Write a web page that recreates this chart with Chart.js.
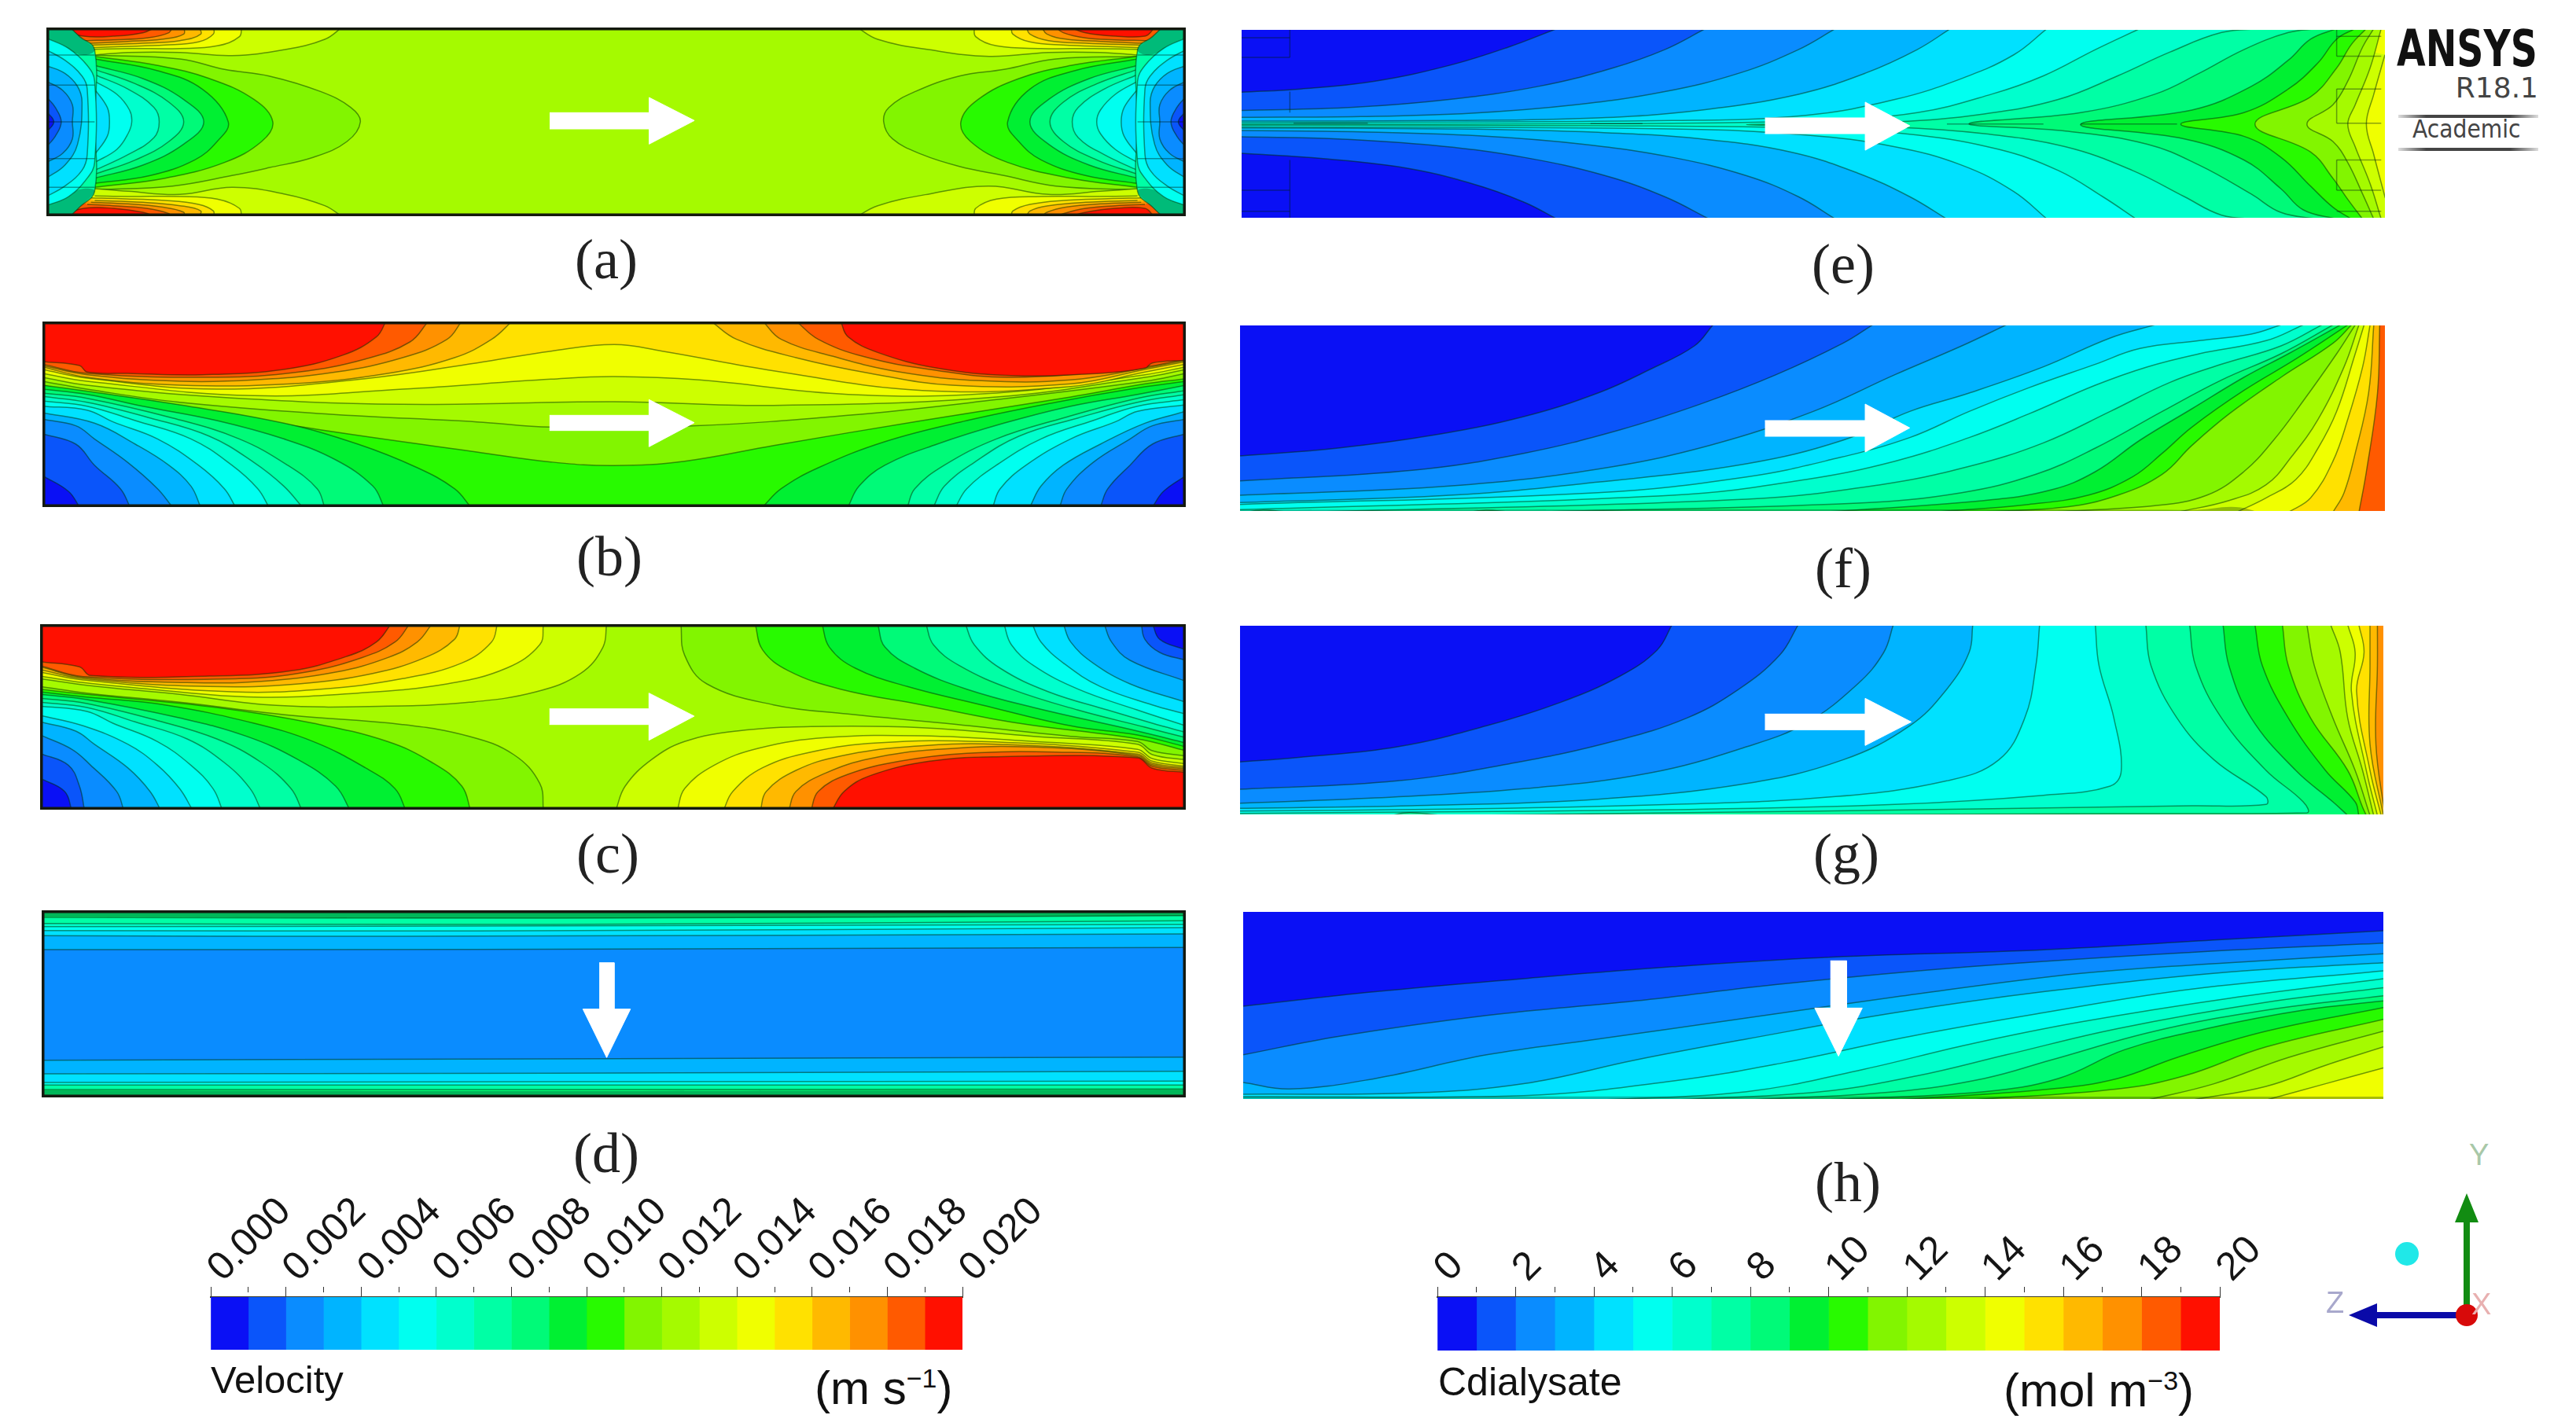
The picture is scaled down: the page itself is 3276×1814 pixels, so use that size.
<!DOCTYPE html>
<html>
<head>
<meta charset="utf-8">
<title>Velocity and dialysate concentration contours</title>
<script src="https://cdn.jsdelivr.net/npm/chart.js@4"></script>
<style>
  html, body { margin: 0; background: #fff; }
  #page { position: relative; width: 3276px; height: 1814px; overflow: hidden; }
  canvas { position: absolute; }
  .t { position: absolute; white-space: nowrap; line-height: 1; color: #111; }
  .cap { font: 72px "Liberation Serif", serif; transform: translate(-50%, -50%); color: #222; }
  .sans { font-family: "Liberation Sans", sans-serif; font-size: 49px; }
  .sans sup { font-size: 34px; line-height: 0; }
  .rule { position: absolute; height: 4px; left: 3050px; width: 178px;
    background: linear-gradient(90deg, #ddd, #444 20%, #444 80%, #ddd); }
</style>
</head>
<body>
<div id="page"></div>
<script>
// colours of the 20 legend bands, lowest value first
const bandColors = ["#0a10f5","#0a55fa","#0a8cff","#00b4ff","#00e1ff","#00fff0","#00ffcd","#00ffa5","#00fa78","#00f032",
  "#28fa00","#82f500","#a5fa00","#cdff00","#f0ff00","#ffe100","#ffb900","#ff9100","#ff5a00","#ff1000"];

const velocityTicks = ["0.000","0.002","0.004","0.006","0.008","0.010","0.012","0.014","0.016","0.018","0.020"];
const concTicks = ["0","2","4","6","8","10","12","14","16","18","20"];

// contour layers: [side the region closes towards, legend band, x,y,x,y...], painted in order
// band -1 is the dark wall shading, side N is a bare mesh line
const panelA = [
  ["L",11,[85,150,200,165,260,205,320,230,390,290,430,350,443,405,425,480,380,540,320,580,270,610,190,650,85,665]],
  ["L",10,[85,155,170,190,240,240,300,320,325,405,310,480,260,560,180,620,85,655]],
  ["L",9,[85,165,170,210,230,280,265,405,250,480,220,550,160,610,85,640]],
  ["L",8,[85,190,150,240,205,320,232,405,205,490,150,570,85,620]],
  ["L",7,[85,205,140,260,185,330,205,405,185,480,140,550,85,605]],
  ["L",6,[85,225,130,280,165,350,172,405,165,465,130,530,85,590]],
  ["L",5,[85,250,115,300,132,360,135,405,130,450,115,510,85,560]],
  ["L",4,[85,280,102,350,105,405,102,460,85,530]],
  ["R",11,[1490,155,1380,165,1310,205,1250,230,1190,290,1155,350,1148,405,1160,470,1200,530,1250,575,1310,610,1380,650,1490,665]],
  ["R",10,[1490,155,1400,190,1330,240,1275,320,1252,405,1265,480,1315,560,1400,620,1490,655]],
  ["R",9,[1490,165,1405,210,1345,280,1315,405,1330,480,1360,550,1420,610,1490,640]],
  ["R",8,[1490,190,1425,240,1370,320,1345,405,1370,490,1425,570,1490,620]],
  ["R",7,[1490,205,1435,260,1390,330,1372,405,1390,480,1435,550,1490,605]],
  ["R",6,[1490,225,1445,280,1410,350,1402,405,1410,465,1445,530,1490,590]],
  ["R",5,[1490,250,1460,300,1440,360,1435,405,1440,450,1460,510,1490,560]],
  ["R",4,[1490,280,1472,350,1468,405,1472,460,1490,530]],
  ["L",13,[420,40,395,90,340,130,270,152,200,140,130,140,85,150]],
  ["L",14,[283,40,280,80,250,115,200,125,130,125,85,128]],
  ["L",15,[245,40,245,70,225,100,180,112,120,118,80,122]],
  ["L",16,[225,40,228,70,200,95,150,105,85,112]],
  ["L",17,[205,40,205,70,175,90,130,98,80,105]],
  ["L",18,[190,40,185,65,155,85,110,92,75,95]],
  ["L",19,[170,40,150,65,110,78,70,78,45,55,45,40]],
  ["L",13,[85,660,130,670,200,682,270,655,340,680,395,725,420,770]],
  ["L",14,[85,688,130,690,200,690,250,700,280,735,283,770]],
  ["L",15,[80,695,120,698,180,705,225,720,245,745,245,770]],
  ["L",16,[85,705,150,712,200,725,228,745,225,770]],
  ["L",17,[80,712,130,718,175,730,205,750,205,770]],
  ["L",18,[75,720,110,725,155,735,185,755,190,770]],
  ["L",19,[45,770,45,760,70,735,110,735,150,750,170,770]],
  ["R",13,[1110,40,1140,90,1210,130,1290,155,1370,140,1440,140,1490,150]],
  ["R",14,[1270,40,1272,80,1300,115,1360,125,1430,125,1490,128]],
  ["R",15,[1320,40,1322,70,1345,100,1390,112,1450,118,1495,122]],
  ["R",16,[1340,40,1345,70,1370,95,1420,105,1490,112]],
  ["R",17,[1360,40,1368,70,1395,90,1440,98,1495,105]],
  ["R",18,[1378,40,1390,65,1420,85,1460,92,1500,95]],
  ["R",19,[1395,40,1420,65,1460,78,1500,78,1510,55,1510,40]],
  ["R",13,[1490,660,1440,670,1370,682,1290,650,1210,680,1140,725,1110,770]],
  ["R",14,[1490,688,1430,690,1360,690,1300,700,1272,735,1270,770]],
  ["R",15,[1495,695,1450,698,1390,705,1345,720,1322,745,1320,770]],
  ["R",16,[1490,705,1420,712,1370,725,1345,745,1340,770]],
  ["R",17,[1495,712,1440,718,1395,730,1368,750,1360,770]],
  ["R",18,[1500,720,1460,725,1420,735,1390,755,1378,770]],
  ["R",19,[1510,770,1510,760,1500,735,1460,735,1420,750,1395,770]],
  ["L",7,[50,40,65,80,85,130,85,405,85,670,65,730,50,770]],
  ["L",-1,[50,40,65,80,85,130,70,150,40,120,20,110]],
  ["L",-1,[20,700,40,690,70,660,85,670,65,730,50,770]],
  ["L",5,[20,85,50,125,75,190,85,250,85,560,75,620,50,690,20,725]],
  ["L",4,[20,130,45,170,68,230,75,280,75,530,68,590,45,650,20,690]],
  ["L",3,[20,190,45,220,62,270,68,330,62,490,45,570,20,620]],
  ["L",2,[20,250,42,285,55,340,55,405,55,470,42,525,20,560]],
  ["L",1,[20,310,32,350,40,405,32,460,20,500]],
  ["L",0,[20,365,30,405,20,445]],
  ["R",7,[1525,40,1510,80,1490,130,1490,405,1490,670,1510,730,1525,770]],
  ["R",-1,[1525,40,1510,80,1490,130,1505,150,1535,120,1555,110]],
  ["R",-1,[1555,700,1535,690,1505,660,1490,670,1510,730,1525,770]],
  ["R",5,[1555,85,1525,125,1500,190,1490,250,1490,560,1500,620,1525,690,1555,725]],
  ["R",4,[1555,130,1530,170,1507,230,1500,280,1500,530,1507,590,1530,650,1555,690]],
  ["R",3,[1555,190,1530,220,1513,270,1507,330,1513,490,1530,570,1555,620]],
  ["R",2,[1555,250,1533,285,1520,340,1520,405,1520,470,1533,525,1555,560]],
  ["R",1,[1555,310,1543,350,1535,405,1543,460,1555,500]],
  ["R",0,[1555,365,1545,405,1555,445]],
  ["N",0,[20,150,85,150]],["N",0,[20,265,85,265]],["N",0,[20,405,85,405]],["N",0,[20,545,85,545]],["N",0,[20,655,85,655]],
  ["N",0,[1490,150,1555,150]],["N",0,[1490,265,1555,265]],["N",0,[1490,405,1555,405]],["N",0,[1490,545,1555,545]],["N",0,[1490,655,1555,655]]
];

const panelB = [
  ["T",11,[15,285,75,320,200,370,400,460,600,540,700,578,785,592,880,575,1000,515,1200,420,1400,330,1500,280,1555,260]],
  ["T",12,[15,270,75,300,200,350,400,395,600,425,700,445,890,440,1100,400,1300,340,1500,270,1555,240]],
  ["T",13,[15,255,75,285,250,330,500,358,785,348,1000,362,1300,330,1500,255,1555,225]],
  ["T",14,[15,240,75,270,300,325,500,300,700,262,785,252,900,265,1100,320,1300,315,1500,245,1555,215]],
  ["T",15,[15,225,75,258,250,300,450,260,600,200,700,155,785,130,850,155,1000,230,1200,305,1400,290,1500,235,1555,205]],
  ["L",16,[648,40,620,110,570,180,480,240,350,280,200,285,75,255,15,215]],
  ["R",16,[915,40,950,110,1030,180,1130,240,1240,285,1400,280,1500,225,1555,195]],
  ["L",17,[580,40,560,110,500,180,410,235,300,265,200,270,75,245,15,210]],
  ["R",17,[985,40,1010,110,1080,175,1170,235,1280,268,1400,265,1500,220,1555,190]],
  ["L",18,[535,40,510,120,450,185,360,235,250,255,75,240,15,205]],
  ["R",18,[1030,40,1060,110,1120,175,1210,225,1320,255,1500,215,1555,185]],
  ["L",19,[478,40,465,100,420,170,340,225,230,245,130,240,75,235,65,210,15,195]],
  ["R",19,[1090,40,1100,100,1140,160,1220,220,1320,248,1440,240,1500,220,1510,200,1555,190]],
  ["L",9,[15,285,80,310,200,360,340,430,440,510,520,600,570,680,592,750]],
  ["L",8,[15,300,75,320,150,365,250,420,340,490,410,570,460,670,475,750]],
  ["L",7,[15,315,75,335,190,410,280,490,345,590,385,680,395,750]],
  ["L",6,[15,328,75,350,160,410,240,480,300,580,340,670,365,750]],
  ["L",5,[15,345,75,365,140,420,215,490,270,590,305,680,320,750]],
  ["L",4,[15,365,75,380,110,425,170,490,225,590,260,680,275,750]],
  ["L",3,[15,390,85,430,140,510,185,590,215,670,228,750]],
  ["L",2,[15,415,60,440,85,490,130,580,170,680,190,750]],
  ["L",1,[15,470,60,510,85,590,120,680,133,750]],
  ["L",0,[15,630,50,690,65,750]],
  ["R",9,[1555,270,1480,300,1380,350,1260,420,1150,500,1060,600,1010,680,985,750]],
  ["R",8,[1555,285,1490,320,1400,365,1310,430,1220,510,1150,590,1115,670,1100,750]],
  ["R",7,[1555,305,1490,335,1390,410,1300,490,1230,590,1190,680,1180,750]],
  ["R",6,[1555,320,1490,350,1410,410,1330,480,1270,580,1230,670,1215,750]],
  ["R",5,[1555,340,1490,365,1430,420,1360,490,1300,590,1260,680,1245,750]],
  ["R",4,[1555,360,1490,385,1460,425,1400,490,1340,590,1305,680,1295,750]],
  ["R",3,[1555,385,1500,430,1440,510,1390,590,1360,670,1345,750]],
  ["R",2,[1555,415,1510,440,1480,490,1430,580,1395,680,1385,750]],
  ["R",1,[1555,470,1510,510,1480,590,1450,680,1440,750]],
  ["R",0,[1555,630,1525,690,1510,750]]
];

const panelC = [
  ["L",13,[775,40,770,130,740,230,680,300,590,340,480,355,330,352,200,310,75,275,12,250]],
  ["L",14,[690,40,685,120,640,210,560,270,440,305,300,320,160,290,70,265,12,240]],
  ["L",15,[628,40,620,110,580,190,500,250,390,290,270,300,70,255,12,225]],
  ["L",16,[578,40,570,100,530,170,460,230,360,270,240,280,70,250,12,215]],
  ["L",17,[540,40,520,110,480,170,410,225,310,260,210,265,70,245,12,205]],
  ["L",18,[510,40,490,110,445,170,370,225,280,250,70,242,12,200]],
  ["L",19,[485,40,465,110,425,165,350,220,240,240,80,238,65,205,12,185]],
  ["R",13,[1555,560,1510,540,1490,500,1350,470,1200,437,1050,433,950,450,880,490,835,560,800,660,787,755]],
  ["R",14,[1555,575,1510,555,1490,520,1350,490,1200,468,1070,475,980,515,920,580,880,670,870,755]],
  ["R",15,[1555,585,1510,565,1490,530,1280,490,1140,495,1050,530,985,590,945,680,932,755]],
  ["R",16,[1555,590,1510,572,1490,538,1300,500,1180,510,1090,545,1030,600,990,680,982,755]],
  ["R",17,[1555,595,1510,578,1490,543,1340,510,1220,520,1130,555,1070,610,1030,680,1020,755]],
  ["R",18,[1555,600,1510,584,1490,548,1380,530,1260,535,1170,565,1100,615,1060,680,1050,755]],
  ["R",19,[1555,608,1510,592,1490,552,1300,548,1210,565,1130,620,1095,680,1078,755]],
  ["L",11,[12,280,75,305,200,340,350,390,500,425,590,470,650,540,685,650,690,755]],
  ["L",10,[12,290,75,310,250,360,380,420,480,490,540,570,580,660,592,755]],
  ["L",9,[12,300,75,320,180,350,300,420,380,490,450,590,490,670,505,755]],
  ["L",8,[12,310,75,330,200,400,290,470,360,560,410,660,430,755]],
  ["L",7,[12,325,75,345,170,410,250,480,310,570,350,670,365,755]],
  ["L",6,[12,340,75,360,140,415,210,480,260,570,295,670,310,755]],
  ["L",5,[12,355,75,375,110,420,170,490,215,580,245,670,258,755]],
  ["L",4,[12,390,70,430,130,500,170,580,200,670,218,755]],
  ["L",3,[12,415,60,450,85,500,130,590,160,680,175,755]],
  ["L",2,[12,465,55,520,80,580,115,680,125,755]],
  ["L",1,[12,535,50,580,65,660,72,755]],
  ["L",0,[12,630,45,680,55,755]],
  ["R",11,[875,40,880,160,910,270,1000,350,1100,385,1230,420,1400,470,1490,490,1510,525,1555,545]],
  ["R",10,[975,40,985,140,1020,220,1090,290,1200,350,1330,420,1490,480,1555,525]],
  ["R",9,[1065,40,1075,130,1110,210,1180,280,1280,350,1400,430,1490,465,1555,510]],
  ["R",8,[1140,40,1150,130,1190,210,1260,290,1350,360,1490,450,1555,495]],
  ["R",7,[1205,40,1215,120,1250,200,1320,290,1410,370,1500,435,1555,475]],
  ["R",6,[1258,40,1270,120,1305,210,1370,300,1450,370,1510,420,1555,455]],
  ["R",5,[1310,40,1320,120,1350,200,1410,290,1490,370,1555,430]],
  ["R",4,[1348,40,1360,110,1390,190,1440,280,1510,350,1555,385]],
  ["R",3,[1390,40,1400,110,1430,190,1480,270,1555,340]],
  ["R",2,[1445,40,1455,110,1480,180,1555,260]],
  ["R",1,[1495,40,1500,100,1520,150,1555,180]],
  ["R",0,[1510,40,1520,100,1555,140]]
];

const panelD = [
  ["T",3,[14,188,600,187,1555,180]],
  ["T",4,[14,135,500,137,1555,128]],
  ["T",5,[14,115,600,117,1555,104]],
  ["T",6,[14,100,600,98,1555,92]],
  ["T",7,[14,88,700,92,1555,78]],
  ["T",8,[14,65,700,68,1555,58]],
  ["T",-1,[14,62,700,68,1555,58]],
  ["B",3,[14,610,700,605,1555,598]],
  ["B",4,[14,662,700,660,1555,652]],
  ["B",5,[14,695,700,692,1555,690]],
  ["B",7,[14,705,700,705,1555,705]],
  ["B",8,[14,722,700,722,1555,720]],
  ["B",-1,[14,725,700,728,1555,722]]
];

const panelE = [
  ["L",13,[1560,150,1545,300,1535,414,1545,530,1560,690]],
  ["L",12,[1555,50,1540,200,1520,340,1510,414,1520,500,1540,640,1555,775]],
  ["L",11,[1545,50,1530,120,1510,250,1490,340,1455,414,1490,480,1510,560,1530,680,1545,775]],
  ["L",10,[1535,50,1515,110,1495,200,1460,310,1385,414,1460,520,1490,620,1510,700,1530,775]],
  ["L",9,[1520,50,1495,90,1470,180,1430,280,1370,370,1285,414,1370,460,1420,540,1460,650,1490,730,1515,775]],
  ["L",8,[1495,50,1460,90,1430,170,1380,270,1300,360,1150,415,1290,470,1370,550,1420,660,1450,740,1495,775]],
  ["L",7,[1470,50,1430,65,1370,130,1310,220,1250,300,1150,370,1000,412,1130,440,1240,490,1310,570,1380,680,1420,750,1470,775]],
  ["L",6,[1395,50,1340,65,1270,140,1200,230,1120,320,1020,375,900,405,700,416,900,425,1020,450,1130,500,1220,590,1290,690,1340,760,1390,775]],
  ["L",5,[1230,50,1170,130,1100,230,1030,300,930,370,800,400,500,412,20,414]],
  ["L",5,[20,418,500,420,800,430,930,455,1040,510,1120,590,1180,690,1225,775]],
  ["L",4,[1105,50,1060,150,990,240,900,320,780,380,600,400,20,408]],
  ["L",4,[20,424,600,432,780,455,900,500,990,570,1060,670,1105,775]],
  ["L",3,[975,50,930,130,860,220,770,300,640,360,500,390,300,400,20,402]],
  ["L",3,[20,428,300,432,500,445,640,470,760,520,850,600,920,690,970,775]],
  ["L",2,[820,50,770,130,690,220,590,290,470,340,330,372,180,385,20,388]],
  ["L",2,[20,438,180,443,340,458,480,490,600,540,700,610,770,690,820,775]],
  ["L",1,[645,50,590,130,520,200,420,270,300,320,170,350,20,362]],
  ["L",1,[20,462,150,470,280,495,400,540,510,610,590,690,650,775]],
  ["L",0,[445,50,380,120,300,190,200,250,100,280,20,292]],
  ["L",0,[20,525,130,545,240,580,330,640,400,710,445,775]],
  ["N",0,[90,410,190,410]],["N",0,[490,412,560,412]],["N",0,[970,413,1100,413]],["N",0,[1150,413,1280,413]],
  ["N",0,[20,85,85,85]],["N",0,[20,160,85,160]],["N",0,[85,55,85,160]],["N",0,[85,290,85,370]],["N",0,[85,550,85,770]],
  ["N",0,[20,665,85,665]],["N",0,[20,745,85,745]],
  ["N",0,[1495,55,1495,155]],["N",0,[1495,80,1555,80]],["N",0,[1495,155,1555,155]],["N",0,[1495,280,1555,280]],
  ["N",0,[1495,280,1495,410]],["N",0,[1495,410,1555,410]],["N",0,[1495,550,1495,665]],["N",0,[1495,550,1555,550]],
  ["N",0,[1495,665,1555,665]],["N",0,[1495,745,1555,745]]
];

const panelF = [
  ["L",16,[1553,40,1550,300,1535,600,1525,755]],
  ["L",15,[1545,40,1538,300,1520,530,1505,680,1490,755]],
  ["L",14,[1540,40,1530,200,1510,400,1490,560,1460,700,1430,755]],
  ["L",13,[1532,40,1520,150,1495,370,1470,510,1440,630,1400,700,1360,755]],
  ["L",12,[1525,40,1505,200,1470,400,1435,540,1400,650,1350,710,1280,755]],
  ["L",11,[1520,40,1495,150,1450,330,1410,480,1370,600,1320,690,1250,730,1100,755]],
  ["L",10,[1515,40,1490,110,1420,240,1350,380,1300,500,1260,610,1200,690,1130,735,1000,755]],
  ["L",9,[1510,40,1440,170,1370,290,1300,430,1260,530,1220,620,1160,690,1080,725,950,755]],
  ["L",8,[1500,40,1430,150,1370,240,1300,360,1230,480,1170,600,1110,670,1020,710,800,755]],
  ["L",7,[1490,40,1420,150,1340,250,1260,370,1170,510,1090,610,990,680,850,720,400,755]],
  ["L",6,[1475,40,1420,120,1340,190,1270,260,1190,370,1100,490,1000,580,880,650,700,705,100,755]],
  ["L",5,[1450,40,1400,100,1310,150,1240,200,1170,270,1080,380,1000,470,900,560,780,630,600,690,18,745]],
  ["L",4,[1420,40,1380,75,1310,100,1230,130,1170,190,1080,280,1000,370,920,470,820,550,700,620,500,680,18,725]],
  ["L",3,[1250,40,1190,90,1100,200,1000,300,920,370,830,480,700,570,500,640,300,690,18,718]],
  ["L",2,[1050,40,990,120,900,230,790,370,650,500,500,590,300,655,18,690]],
  ["L",1,[870,40,830,110,740,230,640,340,530,440,400,530,250,595,18,635]],
  ["L",0,[655,40,630,120,570,210,500,300,400,390,280,460,150,510,18,540]],
  ["B",-1,[18,746,800,744,1300,746]]
];

const panelG = [
  ["L",16,[1550,44,1550,200,1548,500,1560,772]],
  ["L",15,[1540,44,1540,200,1540,500,1558,772]],
  ["L",14,[1525,44,1532,150,1522,300,1540,600,1555,772]],
  ["L",13,[1510,44,1520,150,1515,300,1535,600,1550,772]],
  ["L",12,[1487,44,1500,150,1510,400,1530,600,1545,772]],
  ["L",11,[1455,44,1465,200,1490,400,1520,600,1540,772]],
  ["L",10,[1422,44,1430,200,1460,400,1510,600,1530,740,1535,772]],
  ["L",9,[1385,44,1395,200,1430,400,1480,600,1520,720,1525,772]],
  ["L",8,[1342,44,1350,200,1380,400,1440,600,1490,720,1510,772]],
  ["L",7,[1297,44,1305,200,1340,400,1400,600,1450,720,1455,762,1200,765,480,772]],
  ["L",6,[1238,44,1245,200,1280,400,1330,560,1400,700,1400,730,1300,735,800,755,300,772]],
  ["L",5,[1170,44,1175,200,1195,400,1205,600,1190,660,1100,695,900,730,600,750,200,760,18,764]],
  ["L",4,[1095,44,1090,200,1075,400,1040,560,970,640,820,700,600,730,300,748,18,755]],
  ["L",3,[1005,44,1000,150,970,290,920,430,830,560,700,650,500,710,250,735,18,745]],
  ["L",2,[898,44,885,150,850,270,780,420,700,510,570,610,400,670,200,705,18,725]],
  ["L",1,[770,44,745,160,690,290,620,400,520,490,390,570,230,640,18,672]],
  ["L",0,[600,44,580,140,530,240,450,340,350,430,230,510,100,550,18,568]]
];

const panelH = [
  ["B",1,[22,405,200,350,400,300,600,255,800,220,1100,190,1350,150,1558,118]],
  ["B",2,[22,590,150,520,350,440,550,385,750,320,1000,255,1300,200,1558,165]],
  ["B",3,[22,695,85,720,200,680,350,590,500,530,700,450,900,370,1150,280,1350,240,1558,205]],
  ["B",4,[22,740,250,735,400,700,550,610,700,530,900,430,1100,350,1350,275,1558,240]],
  ["B",5,[22,750,400,745,600,690,750,620,920,520,1100,430,1300,340,1558,270]],
  ["B",6,[500,762,700,730,850,650,1000,550,1150,465,1350,375,1558,300]],
  ["B",7,[600,762,800,730,930,670,1050,590,1200,490,1400,390,1558,335]],
  ["B",8,[700,762,900,730,1020,680,1110,610,1250,500,1400,420,1558,365]],
  ["B",9,[800,762,1020,730,1120,680,1210,570,1320,490,1450,420,1558,385]],
  ["B",10,[900,762,1110,720,1200,680,1280,600,1400,500,1558,410]],
  ["B",11,[1000,762,1200,720,1290,670,1400,560,1558,455]],
  ["B",12,[1240,762,1330,700,1430,600,1558,500]],
  ["B",13,[1300,762,1400,710,1480,630,1558,560]],
  ["B",14,[1400,762,1480,700,1558,640]],
  ["B",-1,[22,749,700,748,1558,749]]
];

// flow arrows, in the same units as the contour layers
const arrowA = [698,370,832,370,832,312,893,400,832,490,832,432,698,432];
const arrowB = [698,400,832,400,832,340,893,428,832,520,832,458,698,458];
const arrowC = [698,365,832,365,832,305,893,393,832,485,832,425,698,425];
const arrowD = [765,238,785,238,785,415,807,415,775,600,743,415,765,415];
const arrowE = [725,390,860,390,860,330,920,420,860,513,860,450,725,450];
const arrowF = [725,405,860,405,860,342,920,433,860,525,860,465,725,465];
const arrowG = [725,385,860,385,860,325,922,415,860,505,860,445,725,445];
const arrowH = [813,232,835,232,835,412,856,412,824,595,792,412,813,412];

// orientation triad
const triadY = [-4,0,4,0,4,118,15,118,0,155,-15,118,-4,118];
const triadZ = [0,-4,-114,-4,-114,-15,-150,0,-114,15,-114,4,0,4];
const triadOrigin = [0,0];
const triadProbe = [-76,78];

const CORNERS = {
  L: [[-3000,4000],[-3000,-3000]],
  R: [[5000,4000],[5000,-3000]],
  T: [[5000,-3000],[-3000,-3000]],
  B: [[5000,4000],[-3000,4000]]
};

const page = document.getElementById("page");

function toPoints(flat) {
  const pts = [];
  for (let i = 0; i < flat.length; i += 2) pts.push({ x: flat[i], y: flat[i + 1] });
  return pts;
}

// run the contour on past the panel edge before closing, so the far corners don't bend its end
function closeContour(pts, side) {
  const a = pts[pts.length - 2], b = pts[pts.length - 1];
  const len = Math.hypot(b.x - a.x, b.y - a.y) || 1;
  const past = { x: b.x + (b.x - a.x) / len * 80, y: b.y + (b.y - a.y) / len * 80 };
  return pts.concat([past], CORNERS[side].map(([x, y]) => ({ x, y })));
}

function addCanvas(left, top, width, height) {
  const c = document.createElement("canvas");
  c.width = width;
  c.height = height;
  c.style.left = left + "px";
  c.style.top = top + "px";
  page.appendChild(c);
  return c;
}

function addText(cls, html, css) {
  const d = document.createElement("div");
  d.className = "t " + cls;
  d.innerHTML = html;
  Object.assign(d.style, css);
  page.appendChild(d);
}

const baseOptions = {
  responsive: false,
  animation: false,
  events: [],
  layout: { padding: 0, autoPadding: false },
  plugins: { legend: { display: false }, tooltip: { enabled: false } }
};

function drawPanel(rect, extent, background, layers, arrow, framed) {
  const [x0, x1, y0, y1] = extent;
  const sets = [{
    data: toPoints([-3000,-3000, 5000,-3000, 5000,4000, -3000,4000]),
    backgroundColor: bandColors[background], fill: "shape", borderWidth: 0, tension: 0
  }];
  layers.forEach(([side, band, flat]) => {
    if (side === "N") {
      sets.push({ data: toPoints(flat), borderColor: "rgba(0,30,20,.42)", borderWidth: 1.5, tension: 0, fill: false });
    } else if (band < 0) {
      sets.push({ data: closeContour(toPoints(flat), side), fill: "shape", tension: 0.4, backgroundColor: "rgba(0,30,20,.3)", borderWidth: 0 });
    } else {
      sets.push({
        data: closeContour(toPoints(flat), side), fill: "shape", tension: 0.4,
        backgroundColor: bandColors[band],
        borderColor: "rgba(0,45,0,.5)", borderWidth: 1.5
      });
    }
  });
  sets.push({ data: toPoints(arrow), fill: "shape", backgroundColor: "#fff", borderColor: "#fff", borderWidth: 1, tension: 0 });
  if (framed) {
    sets.push({
      data: toPoints([x0,y0, x1,y0, x1,y1, x0,y1, x0,y0]),
      borderColor: "#14190f", borderWidth: 7, tension: 0, fill: false
    });
  }
  sets.forEach((s, i) => { s.order = sets.length - i; s.pointRadius = 0; });
  new Chart(addCanvas(...rect), {
    type: "line",
    data: { datasets: sets },
    options: {
      ...baseOptions,
      scales: {
        x: { type: "linear", display: false, min: x0, max: x1 },
        y: { type: "linear", display: false, min: y0, max: y1, reverse: true }
      }
    }
  });
}

drawPanel([59,35,1449,240], [20,1555,45,765], 12, panelA, arrowA, true);
drawPanel([54,409,1454,236], [15,1555,42,750], 10, panelB, arrowB, true);
drawPanel([51,794,1457,236], [12,1555,42,750], 12, panelC, arrowC, true);
drawPanel([53,1158,1455,238], [14,1555,38,752], 2, panelD, arrowD, true);
drawPanel([1579,38,1454,239], [20,1560,55,770], 14, panelE, arrowE, false);
drawPanel([1577,414,1456,236], [18,1560,42,750], 18, panelF, arrowF, false);
drawPanel([1577,796,1454,240], [18,1558,48,768], 17, panelG, arrowG, false);
drawPanel([1581,1160,1450,238], [22,1558,46,758], 0, panelH, arrowH, false);

function drawColorBar(left, top, width, height, barLeft, barWidth, barHeight, max, tickLabels) {
  const step = max / 20;
  new Chart(addCanvas(left, top, width, height), {
    type: "bar",
    data: {
      labels: ["band"],
      datasets: bandColors.map(c => ({ data: [step], backgroundColor: c, barPercentage: 1, categoryPercentage: 1 }))
    },
    options: {
      ...baseOptions,
      indexAxis: "y",
      layout: { autoPadding: false, padding: { left: barLeft - left, right: left + width - barLeft - barWidth, top: 0, bottom: 0 } },
      scales: {
        y: { display: false, stacked: true },
        x: {
          type: "linear", position: "top", stacked: true, min: 0, max,
          afterFit: s => { s.paddingLeft = 0; s.paddingRight = 0; s.height = height - barHeight; },
          border: { color: "#3c3c28", width: 2 },
          grid: {
            drawOnChartArea: false, tickLength: 13, tickColor: "#333", tickWidth: 1,
            tickBorderDash: ctx => (ctx.index % 2 ? [7, 40] : [])
          },
          ticks: {
            stepSize: step, autoSkip: false, minRotation: 45, maxRotation: 45, padding: -6, labelOffset: 48, color: "#151515",
            font: { family: "Liberation Sans", size: 50 },
            callback: (v, i) => (i % 2 ? "" : tickLabels[i / 2])
          }
        }
      }
    }
  });
}

drawColorBar(228, 1470, 1180, 247, 268, 956, 67, 0.02, velocityTicks);
drawColorBar(1790, 1500, 1170, 218, 1828, 995, 68, 20, concTicks);

new Chart(addCanvas(2967, 1503, 220, 200), {
  type: "line",
  data: {
    datasets: [
      { data: toPoints(triadOrigin), pointRadius: 14, pointBackgroundColor: "#d80a0a", pointBorderWidth: 0, showLine: false, order: 1 },
      { data: toPoints(triadProbe), pointRadius: 15, pointBackgroundColor: "#20e8e8", pointBorderWidth: 0, showLine: false, order: 2 },
      { data: toPoints(triadZ), fill: "shape", backgroundColor: "#0a0aa8", borderWidth: 0, tension: 0, pointRadius: 0, order: 3 },
      { data: toPoints(triadY), fill: "shape", backgroundColor: "#128c12", borderWidth: 0, tension: 0, pointRadius: 0, order: 4 }
    ]
  },
  options: {
    ...baseOptions,
    scales: {
      x: { type: "linear", display: false, min: -170, max: 50 },
      y: { type: "linear", display: false, min: -30, max: 170 }
    }
  }
});

[["(a)",771,330],["(b)",775,708],["(c)",773,1086],["(d)",771,1467],["(e)",2344,336],["(f)",2344,723],["(g)",2348,1086],["(h)",2350,1504]]
  .forEach(([t, x, y]) => addText("cap", t, { left: x + "px", top: y + "px" }));

addText("sans", "Velocity", { left: "268px", top: "1731px" });
addText("sans", "(m s<sup>−1</sup>)", { left: "1036px", top: "1736px", fontSize: "60px" });
addText("sans", "Cdialysate", { left: "1829px", top: "1733px", fontSize: "50px" });
addText("sans", "(mol m<sup>−3</sup>)", { left: "2548px", top: "1739px", fontSize: "60px" });

addText("", "ANSYS", { left: "3048px", top: "30px", fontFamily: "'DejaVu Sans'", fontWeight: "700", fontSize: "64px",
  transform: "scaleX(.74)", transformOrigin: "left top", color: "#111" });
addText("", "R18.1", { right: "48px", top: "94px", fontFamily: "'DejaVu Sans'", fontSize: "36px", transformOrigin: "right top", color: "#444" });
addText("", "Academic", { left: "3068px", top: "148px", fontFamily: "'DejaVu Sans'", fontSize: "32px", transform: "scaleX(.88)", transformOrigin: "left top", color: "#444" });
[146, 188].forEach(y => {
  const r = document.createElement("div");
  r.className = "rule";
  r.style.top = y + "px";
  page.appendChild(r);
});

addText("", "Y", { left: "3140px", top: "1450px", fontFamily: "'Liberation Sans'", fontSize: "38px", color: "#a8c8a8" });
addText("", "X", { left: "3143px", top: "1640px", fontFamily: "'Liberation Sans'", fontSize: "38px", color: "#e8b0b0" });
addText("", "Z", { left: "2958px", top: "1638px", fontFamily: "'Liberation Sans'", fontSize: "38px", color: "#a8a8cc" });
</script>
</body>
</html>
